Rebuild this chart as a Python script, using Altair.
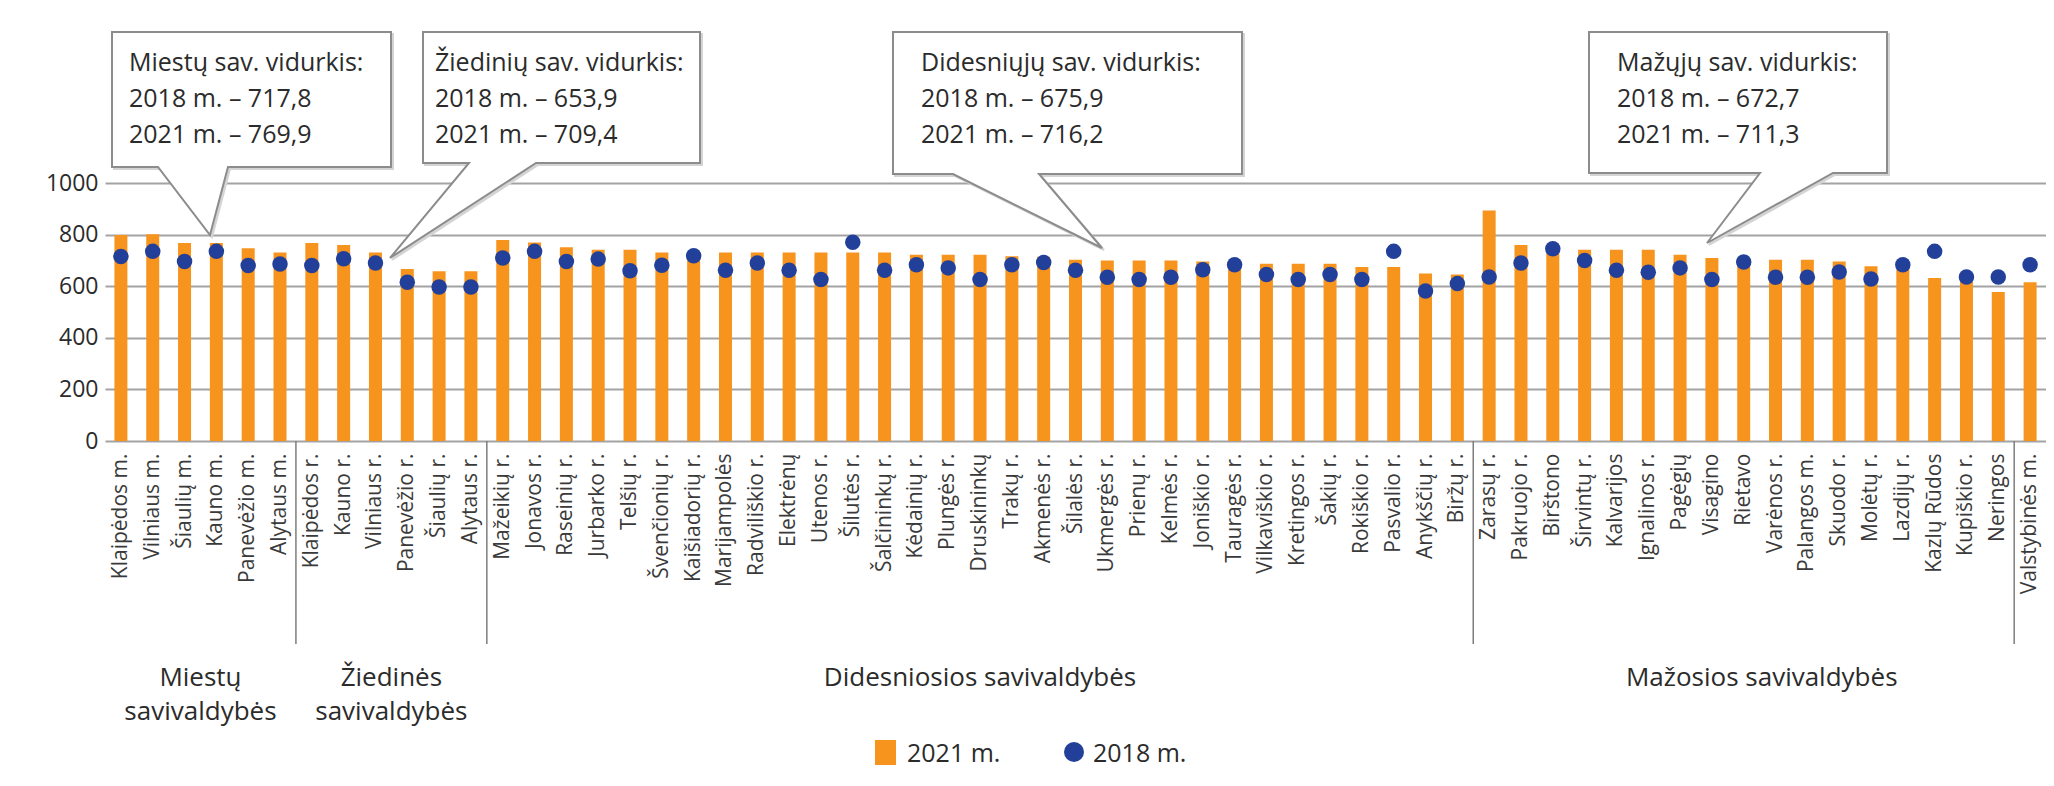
import altair as alt
import pandas as pd

# ---------------- data ----------------
categories = [
    "Klaipėdos m.", "Vilniaus m.", "Šiaulių m.", "Kauno m.", "Panevėžio m.", "Alytaus m.",
    "Klaipėdos r.", "Kauno r.", "Vilniaus r.", "Panevėžio r.", "Šiaulių r.", "Alytaus r.",
    "Mažeikių r.", "Jonavos r.", "Raseinių r.", "Jurbarko r.", "Telšių r.", "Švenčionių r.",
    "Kaišiadorių r.", "Marijampolės", "Radviliškio r.", "Elektrėnų", "Utenos r.", "Šilutės r.",
    "Šalčininkų r.", "Kėdainių r.", "Plungės r.", "Druskininkų", "Trakų r.", "Akmenės r.",
    "Šilalės r.", "Ukmergės r.", "Prienų r.", "Kelmės r.", "Joniškio r.", "Tauragės r.",
    "Vilkaviškio r.", "Kretingos r.", "Šakių r.", "Rokiškio r.", "Pasvalio r.", "Anykščių r.",
    "Biržų r.",
    "Zarasų r.", "Pakruojo r.", "Birštono", "Širvintų r.", "Kalvarijos", "Ignalinos r.",
    "Pagėgių", "Visagino", "Rietavo", "Varėnos r.", "Palangos m.", "Skuodo r.", "Molėtų r.",
    "Lazdijų r.", "Kazlų Rūdos", "Kupiškio r.", "Neringos",
    "Valstybinės m.",
]
v2021 = [
    798, 801, 767, 767, 747, 731,
    767, 760, 731, 667, 658, 658,
    779, 769, 751, 741, 741, 731, 730, 731, 731, 731, 731, 731, 731, 722, 722, 722,
    716, 714, 703, 700, 700, 700, 696, 690, 687, 687, 687, 674, 674, 649, 645,
    893, 760, 745, 741, 741, 741, 722, 709, 700, 703, 703, 696, 677, 680, 632, 626, 578,
    615,
]
v2018 = [
    715, 735, 696, 735, 680, 686,
    680, 706, 690, 615, 597, 597,
    709, 735, 696, 705, 660, 681, 718, 662, 690, 662, 626, 770, 662, 683, 671, 626,
    683, 692, 662, 635, 626, 635, 664, 683, 645, 626, 645, 626, 735, 581, 610,
    636, 690, 745, 700, 662, 654, 671, 626, 694, 635, 635, 655, 628, 683, 735, 636, 636,
    683,
]
y_ticks = [0, 200, 400, 600, 800, 1000]
group_starts = ["Klaipėdos r.", "Mažeikių r.", "Zarasų r.", "Valstybinės m."]
legend_labels = ["2021 m.", "2018 m."]
callout_texts = [
    "Miestų sav. vidurkis:\n2018 m. – 717,8\n2021 m. – 769,9",
    "Žiedinių sav. vidurkis:\n2018 m. – 653,9\n2021 m. – 709,4",
    "Didesniųjų sav. vidurkis:\n2018 m. – 675,9\n2021 m. – 716,2",
    "Mažųjų sav. vidurkis:\n2018 m. – 672,7\n2021 m. – 711,3",
]

df = pd.DataFrame({"sav": categories, "v2021": v2021, "v2018": v2018})

# ---------------- style ----------------
W, H = 1941, 258
ORANGE = "#F7941D"
BLUE = "#22409A"
TXT = "#2b2b2b"
FONT = "Open Sans, sans-serif"

xscale = alt.Scale(domain=categories, paddingInner=0, paddingOuter=0)
yscale = alt.Scale(domain=[0, 1000], nice=False)

x_axis = alt.Axis(title=None, labelAngle=270, labelFont=FONT, labelFontSize=21,
                  labelColor="#3a3a3a", ticks=False, domain=False, labelPadding=12,
                  labelAlign="right", labelBaseline="middle", labelOverlap=False)
y_axis = alt.Axis(title=None, values=y_ticks, format="d", grid=True, gridColor="#a3a3a3",
                  gridWidth=2, ticks=False, domain=False, labelFont=FONT,
                  labelFontSize=23, labelColor=TXT, labelPadding=7)

bars = alt.Chart(df).mark_bar(width=13, color=ORANGE).encode(
    x=alt.X("sav:N", scale=xscale, axis=x_axis),
    y=alt.Y("v2021:Q", scale=yscale, axis=y_axis),
)
dots = alt.Chart(df).mark_circle(size=240, color=BLUE, opacity=1).encode(
    x=alt.X("sav:N", scale=xscale),
    y=alt.Y("v2018:Q", scale=yscale),
)

sep = alt.Chart(pd.DataFrame({"sav": group_starts})).mark_rule(
    color="#7d7d7d", strokeWidth=1.5
).encode(
    x=alt.X("sav:N", scale=xscale, bandPosition=0),
    y=alt.value(H), y2=alt.value(461),
)

# group labels
g_even = alt.Chart(pd.DataFrame({
    "sav": ["Kauno m.", "Panevėžio r."],
    "t": ["Miestų\nsavivaldybės", "Žiedinės\nsavivaldybės"],
})).mark_text(font=FONT, fontSize=26, color=TXT, lineBreak="\n", lineHeight=34,
              align="center", baseline="top").encode(
    x=alt.X("sav:N", scale=xscale, bandPosition=0), y=alt.value(482), text="t:N")
g_mid = alt.Chart(pd.DataFrame({
    "sav": ["Druskininkų"], "t": ["Didesniosios savivaldybės"],
})).mark_text(font=FONT, fontSize=26, color=TXT, align="center", baseline="top").encode(
    x=alt.X("sav:N", scale=xscale), y=alt.value(482), text="t:N")
g_small = alt.Chart(pd.DataFrame({
    "sav": ["Rietavo"], "t": ["Mažosios savivaldybės"],
})).mark_text(font=FONT, fontSize=26, color=TXT, align="center", baseline="top", dx=18).encode(
    x=alt.X("sav:N", scale=xscale), y=alt.value(482), text="t:N")

# callouts (plot-pixel geometry): L, R, T, B, base-left, base-right, tip-x, tip-y, text-x
boxes = [
    (7, 286, -151, -16, 53, 123, 105, 52, 24),
    (318, 595, -151, -20, 364, 431, 285, 75, 330),
    (788, 1137, -151, -9, 848, 934, 997, 65, 816),
    (1484, 1782, -151, -10, 1655, 1728, 1602, 60, 1512),
]


def ring_of(L, R, T, B, bl, br, tx, ty, d=0):
    pts = [[L, T], [R, T], [R, B], [br, B], [tx, ty], [bl, B], [L, B], [L, T]]
    return [[px + d, py + d] for px, py in pts]


features = []
shadows = []
for (L, R, T, B, bl, br, tx, ty, _) in boxes:
    features.append({"type": "Feature", "properties": {},
                     "geometry": {"type": "Polygon",
                                  "coordinates": [ring_of(L, R, T, B, bl, br, tx, ty)]}})
    shadows.append({"type": "Feature", "properties": {},
                    "geometry": {"type": "Polygon",
                                 "coordinates": [ring_of(L, R, T, B, bl, br, tx, ty, 2)]}})

proj = dict(type="identity", reflectY=False, scale=1, translate=[0, 0])
callout_shadow = alt.Chart(alt.Data(values=shadows)).mark_geoshape(
    fill="#d4d4d4", stroke="#d4d4d4", strokeWidth=2, clip=False
).project(**proj)
callout_shapes = alt.Chart(alt.Data(values=features)).mark_geoshape(
    fill="white", stroke="#8c8c8c", strokeWidth=2, clip=False
).project(**proj)

callout_text_layers = []
for (L, R, T, B, bl, br, tx, ty, txx), t in zip(boxes, callout_texts):
    callout_text_layers.append(
        alt.Chart(pd.DataFrame({"t": [t]})).mark_text(
            font=FONT, fontSize=25, color=TXT, lineBreak="\n", lineHeight=36,
            align="left", baseline="top"
        ).encode(x=alt.value(txx), y=alt.value(-132), text="t:N")
    )

# legend
one = pd.DataFrame({"a": [0]})
leg_rect = alt.Chart(one).mark_rect(color=ORANGE).encode(
    x=alt.value(770), x2=alt.value(791), y=alt.value(557), y2=alt.value(582))
leg_dot = alt.Chart(one).mark_circle(color=BLUE, size=400, opacity=1).encode(
    x=alt.value(969), y=alt.value(569))
leg_txt = alt.Chart(pd.DataFrame({"t": legend_labels, "lx": [802, 988]})).mark_text(
    font=FONT, fontSize=25, color=TXT, align="left", baseline="middle"
).encode(x=alt.X("lx:Q", scale=None), y=alt.value(571), text="t:N")

chart = alt.layer(
    bars, dots, sep, g_even, g_mid, g_small, callout_shadow, callout_shapes,
    *callout_text_layers, leg_rect, leg_dot, leg_txt,
).properties(
    width=W, height=H,
    autosize=alt.AutoSizeParams(type="none"),
    padding={"left": 97, "top": 175, "right": 0, "bottom": 330},
    background="white",
).configure_view(stroke=None)

chart.save("out.html", embed_options={"renderer": "svg", "actions": False})
